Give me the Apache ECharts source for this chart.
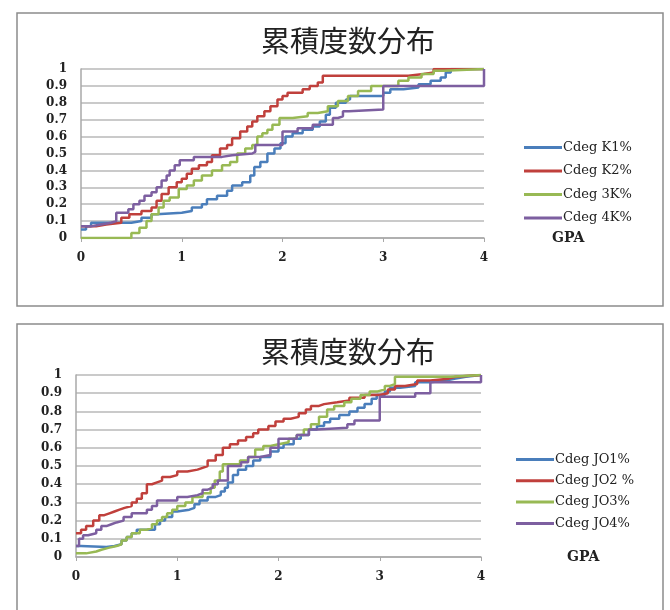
<!DOCTYPE html>
<html>
<head>
<meta charset="utf-8">
<script src="https://cdn.jsdelivr.net/npm/echarts@6/dist/echarts.min.js"></script>
<style>html,body{margin:0;padding:0;background:#fff;}#c{width:670px;height:610px;}</style>
</head>
<body>
<div id="c"></div>
<script>
const chartTitle = '累積度数分布';
const axisName = 'GPA';
const xTicks = [0, 1, 2, 3, 4];
const topNames = ['Cdeg K1%', 'Cdeg K2%', 'Cdeg 3K%', 'Cdeg 4K%'];
const bottomNames = ['Cdeg JO1%', 'Cdeg JO2 %', 'Cdeg JO3%', 'Cdeg JO4%'];

// top chart
const k1 = [[0,0.05],[0.05,0.07],[0.1,0.09],[0.5,0.1],[0.6,0.12],[0.7,0.14],[0.75,0.15],[1.0,0.16],[1.1,0.18],[1.2,0.2],[1.25,0.23],[1.35,0.25],[1.45,0.28],[1.5,0.31],[1.6,0.33],[1.68,0.37],[1.72,0.42],[1.78,0.45],[1.85,0.5],[1.92,0.53],[1.98,0.56],[2.03,0.6],[2.1,0.62],[2.2,0.64],[2.3,0.66],[2.37,0.69],[2.43,0.73],[2.47,0.77],[2.53,0.8],[2.63,0.82],[2.67,0.84],[3.0,0.86],[3.07,0.88],[3.2,0.89],[3.35,0.91],[3.47,0.93],[3.57,0.95],[3.62,0.98],[3.67,1.0],[4,1.0]];
const k2 = [[0,0.07],[0.15,0.08],[0.25,0.09],[0.4,0.12],[0.48,0.14],[0.6,0.16],[0.7,0.18],[0.75,0.22],[0.8,0.26],[0.87,0.3],[0.95,0.33],[1.0,0.35],[1.05,0.38],[1.1,0.41],[1.17,0.43],[1.25,0.45],[1.3,0.49],[1.38,0.53],[1.45,0.55],[1.5,0.59],[1.58,0.63],[1.65,0.66],[1.7,0.69],[1.75,0.72],[1.82,0.75],[1.88,0.78],[1.95,0.82],[2.0,0.84],[2.05,0.86],[2.2,0.88],[2.27,0.9],[2.35,0.92],[2.4,0.96],[3.25,0.97],[3.4,0.98],[3.5,1.0],[4,1.0]];
const k3 = [[0,0],[0.5,0.03],[0.58,0.06],[0.65,0.1],[0.7,0.14],[0.77,0.18],[0.82,0.22],[0.88,0.24],[0.97,0.29],[1.05,0.31],[1.12,0.34],[1.2,0.37],[1.3,0.4],[1.4,0.43],[1.48,0.45],[1.55,0.5],[1.63,0.53],[1.7,0.55],[1.75,0.6],[1.8,0.62],[1.85,0.64],[1.9,0.67],[1.97,0.71],[2.1,0.72],[2.25,0.74],[2.35,0.75],[2.45,0.78],[2.55,0.81],[2.65,0.84],[2.75,0.87],[2.88,0.9],[3.15,0.93],[3.25,0.95],[3.38,0.97],[3.5,0.99],[3.6,1.0],[4,1.0]];
const k4 = [[0,0.07],[0.1,0.08],[0.2,0.09],[0.3,0.1],[0.35,0.15],[0.47,0.17],[0.52,0.2],[0.58,0.22],[0.63,0.25],[0.7,0.27],[0.75,0.3],[0.8,0.34],[0.85,0.37],[0.88,0.4],[0.93,0.43],[0.98,0.46],[1.12,0.48],[1.4,0.49],[1.5,0.5],[1.7,0.51],[1.73,0.55],[2.0,0.63],[2.15,0.65],[2.3,0.67],[2.5,0.71],[2.55,0.72],[2.6,0.75],[2.66,0.76],[3.0,0.9],[4.0,1.0]];

// bottom chart
const jo1 = [[0,0.06],[0.05,0.055],[0.3,0.06],[0.38,0.07],[0.45,0.09],[0.5,0.11],[0.55,0.13],[0.6,0.15],[0.78,0.18],[0.83,0.2],[0.88,0.22],[0.95,0.25],[1.0,0.26],[1.12,0.27],[1.17,0.29],[1.22,0.31],[1.3,0.33],[1.38,0.34],[1.43,0.36],[1.47,0.38],[1.5,0.41],[1.55,0.45],[1.6,0.48],[1.68,0.5],[1.75,0.53],[1.82,0.55],[1.92,0.58],[2.0,0.6],[2.05,0.62],[2.15,0.65],[2.22,0.67],[2.3,0.7],[2.38,0.72],[2.45,0.74],[2.51,0.76],[2.6,0.78],[2.7,0.8],[2.78,0.82],[2.85,0.84],[2.92,0.87],[2.97,0.89],[3.05,0.91],[3.1,0.93],[3.2,0.94],[3.35,0.96],[3.5,0.97],[3.65,0.98],[3.75,0.99],[3.85,1.0],[4,1.0]];
const jo2 = [[0,0.13],[0.05,0.15],[0.1,0.17],[0.17,0.2],[0.23,0.23],[0.28,0.24],[0.33,0.25],[0.38,0.26],[0.43,0.27],[0.48,0.28],[0.55,0.3],[0.6,0.32],[0.65,0.35],[0.7,0.4],[0.75,0.41],[0.8,0.42],[0.85,0.44],[0.93,0.45],[1.0,0.47],[1.1,0.48],[1.2,0.49],[1.25,0.5],[1.3,0.53],[1.38,0.56],[1.45,0.6],[1.52,0.62],[1.6,0.64],[1.68,0.66],[1.75,0.68],[1.8,0.7],[1.9,0.72],[1.97,0.745],[2.05,0.76],[2.12,0.77],[2.2,0.79],[2.27,0.81],[2.32,0.83],[2.4,0.84],[2.45,0.85],[2.58,0.86],[2.7,0.875],[2.85,0.89],[3.0,0.9],[3.08,0.92],[3.15,0.94],[3.25,0.95],[3.37,0.97],[3.5,0.98],[3.68,0.99],[3.75,1.0],[4,1.0]];
const jo3 = [[0,0.02],[0.1,0.03],[0.2,0.04],[0.25,0.05],[0.32,0.06],[0.4,0.07],[0.45,0.09],[0.5,0.11],[0.55,0.13],[0.63,0.15],[0.7,0.16],[0.75,0.18],[0.8,0.2],[0.85,0.22],[0.9,0.24],[0.95,0.26],[1.0,0.28],[1.08,0.3],[1.15,0.33],[1.25,0.35],[1.33,0.38],[1.37,0.42],[1.42,0.47],[1.45,0.51],[1.62,0.53],[1.7,0.55],[1.77,0.59],[1.85,0.61],[1.92,0.62],[2.0,0.63],[2.1,0.65],[2.18,0.67],[2.25,0.7],[2.32,0.73],[2.4,0.77],[2.48,0.81],[2.55,0.83],[2.65,0.85],[2.72,0.87],[2.81,0.89],[2.9,0.91],[2.98,0.92],[3.05,0.94],[3.1,0.95],[3.15,0.99],[3.7,1.0],[4,1.0]];
const jo4 = [[0,0.06],[0.03,0.1],[0.07,0.12],[0.12,0.13],[0.2,0.15],[0.25,0.17],[0.3,0.18],[0.35,0.19],[0.4,0.2],[0.47,0.22],[0.55,0.24],[0.7,0.26],[0.75,0.28],[0.8,0.31],[1.0,0.33],[1.1,0.34],[1.2,0.35],[1.25,0.37],[1.3,0.38],[1.35,0.4],[1.4,0.42],[1.5,0.5],[1.63,0.52],[1.7,0.55],[1.82,0.56],[1.92,0.6],[2.0,0.65],[2.18,0.67],[2.3,0.7],[2.38,0.71],[2.68,0.73],[2.75,0.75],[3.0,0.88],[3.35,0.9],[3.5,0.96],[4.0,1.0]];

const colors = ['#4a7ebb', '#c0403c', '#98b954', '#7d5fa0'];
const topData = [k1, k2, k3, k4];
const bottomData = [jo1, jo2, jo3, jo4];

const serif = '"DejaVu Serif", "Liberation Serif", serif';
const labelStyle = { fontFamily: serif, fontSize: 12, fontWeight: 'bold', color: '#222' };

function xAxis(gridIndex, nameGap, pad) {
  return {
    type: 'value', gridIndex, min: xTicks[0], max: xTicks[xTicks.length - 1], interval: 1,
    name: axisName, nameLocation: 'end', nameGap,
    nameTextStyle: { fontFamily: serif, fontSize: 14, fontWeight: 'bold', color: '#222', padding: [pad, 0, 0, 0] },
    axisLine: { show: true, lineStyle: { color: '#a8a8a8', width: 1.5 } },
    axisTick: { show: true, length: 4, lineStyle: { color: '#a8a8a8' } },
    axisLabel: Object.assign({ margin: 14 }, labelStyle),
    splitLine: { show: false }
  };
}
function yAxis(gridIndex) {
  return {
    type: 'value', gridIndex, min: 0, max: 1, interval: 0.1,
    axisLine: { show: true, lineStyle: { color: '#a8a8a8', width: 1.5 } },
    axisTick: { show: false },
    axisLabel: Object.assign({ margin: 14, formatter: v => String(+v.toFixed(1)) }, labelStyle),
    splitLine: { show: true, lineStyle: { color: '#b8b8b8', width: 1.5 } }
  };
}
function makeSeries(names, data, axisIdx) {
  return names.map((n, i) => ({
    name: n, type: 'line', step: 'end', xAxisIndex: axisIdx, yAxisIndex: axisIdx,
    data: data[i], symbol: 'none', smooth: false,
    lineStyle: { color: colors[i], width: 2.5 }, itemStyle: { color: colors[i] },
    animation: false
  }));
}
function legend(names, left, top, gap) {
  return {
    data: names.map(n => ({ name: n, icon: 'rect' })),
    orient: 'vertical', left, top, itemWidth: 38, itemHeight: 3, itemGap: gap,
    textStyle: { fontFamily: serif, fontSize: 13, color: '#222', padding: [0, 0, 0, -4] }
  };
}

const chart = echarts.init(document.getElementById('c'));
chart.setOption({
  backgroundColor: '#fff',
  animation: false,
  title: [
    { text: chartTitle, left: 343, top: 21, textAlign: 'center',
      textStyle: { fontFamily: '"Noto Sans CJK JP"', fontSize: 29, fontWeight: 'normal', color: '#222' } },
    { text: chartTitle, left: 343, top: 332, textAlign: 'center',
      textStyle: { fontFamily: '"Noto Sans CJK JP"', fontSize: 29, fontWeight: 'normal', color: '#222' } }
  ],
  legend: [
    legend(topNames, 519, 136, 10.5),
    legend(bottomNames, 511, 448, 8.3)
  ],
  grid: [
    { left: 81, top: 69, width: 403, height: 169 },
    { left: 76, top: 375, width: 405, height: 182 }
  ],
  xAxis: [xAxis(0, 68, 58), xAxis(1, 86, 60)],
  yAxis: [yAxis(0), yAxis(1)],
  series: makeSeries(topNames, topData, 0).concat(makeSeries(bottomNames, bottomData, 1)),
  graphic: [
    { type: 'rect', shape: { x: 17, y: 13, width: 646, height: 293 }, style: { fill: 'none', stroke: '#8c8c8c', lineWidth: 1.5 }, silent: true, z: -1 },
    { type: 'rect', shape: { x: 17, y: 324, width: 646, height: 300 }, style: { fill: 'none', stroke: '#8c8c8c', lineWidth: 1.5 }, silent: true, z: -1 }
  ]
});
</script>
</body>
</html>
